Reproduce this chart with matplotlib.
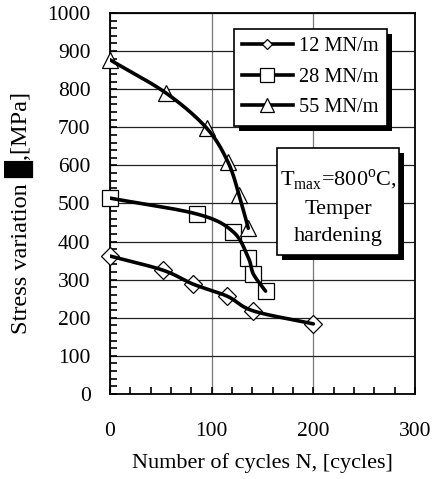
import numpy as np
import matplotlib
matplotlib.use('Agg')
import matplotlib.pyplot as plt
import matplotlib.patheffects as pe
from matplotlib.patches import Rectangle
from matplotlib.ticker import MultipleLocator

plt.rcParams['font.family'] = ['Liberation Serif', 'DejaVu Sans']
plt.rcParams['mathtext.fontset'] = 'custom'
plt.rcParams['mathtext.rm'] = 'Liberation Serif'

# measured points, cycles N vs stress variation [MPa]
n_12 = [0, 52, 82, 115, 141, 200]
s_12 = [362, 325, 288, 257, 218, 184]

n_28 = [0, 86, 121, 136, 141, 153]
s_28 = [514, 472, 426, 358, 315, 270]

n_55 = [0, 55, 95, 116, 127, 136]
s_55 = [877, 790, 698, 609, 522, 435]

labels = ['12 MN/m', '28 MN/m', '55 MN/m']
markers = ['D', 's', '^']
msizes = [9, 11.5, 12]
leg_sizes = [5.5, 9.5, 10.5]


def smooth(x, y, steps=30):
    # catmull-rom curve through the points (like a smoothed line)
    p = np.column_stack([x, y]).astype(float)
    p = np.vstack([2 * p[0] - p[1], p, 2 * p[-1] - p[-2]])
    out = []
    t = np.linspace(0, 1, steps)[:, None]
    for i in range(1, len(p) - 2):
        p0, p1, p2, p3 = p[i - 1], p[i], p[i + 1], p[i + 2]
        seg = 0.5 * (2 * p1 + (-p0 + p2) * t
                     + (2 * p0 - 5 * p1 + 4 * p2 - p3) * t ** 2
                     + (-p0 + 3 * p1 - 3 * p2 + p3) * t ** 3)
        out.append(seg)
    out = np.vstack(out)
    return out[:, 0], out[:, 1]


shadow = [pe.SimplePatchShadow(offset=(3.5, -3.5), shadow_rgbFace='k', alpha=1),
          pe.Normal()]

fig = plt.figure(figsize=(4.39, 4.79), dpi=100)
ax = fig.add_axes([0.2506, 0.1775, 0.6947, 0.7954])

series = [(n_12, s_12), (n_28, s_28), (n_55, s_55)]
for (n, s), lab, m, ms, lms in zip(series, labels, markers, msizes, leg_sizes):
    ax.plot(n, s, linestyle='none', marker=m, ms=ms, mfc='white', mec='k',
            mew=0.9, zorder=3, clip_on=False)
    xx, yy = smooth(n, s)
    ax.plot(xx, yy, color='k', lw=2.6, zorder=4, solid_capstyle='round')
    # legend proxy
    ax.plot([], [], color='k', lw=2.6, marker=m, ms=lms, mfc='white',
            mec='k', mew=0.9, label=lab)

ax.set_xlim(0, 300)
ax.set_ylim(0, 1000)
ax.xaxis.set_major_locator(MultipleLocator(100))
ax.xaxis.set_minor_locator(MultipleLocator(20))
ax.yaxis.set_major_locator(MultipleLocator(100))
ax.yaxis.set_minor_locator(MultipleLocator(20))
ax.tick_params(which='both', direction='in', length=5, width=1.2)
ax.tick_params(axis='x', which='major', pad=20, labelsize=15.5)
ax.tick_params(axis='y', which='major', pad=14, labelsize=15.5)

ax.grid(True, axis='y', which='major', color='#222222', lw=0.9)
ax.grid(True, axis='x', which='major', color='#777777', lw=0.9)
ax.set_axisbelow(True)
for sp in ax.spines.values():
    sp.set_linewidth(1.3)

ax.set_xlabel('Number of cycles N, [cycles]', fontsize=16, labelpad=9)
ax.set_ylabel('Stress variation \u2588,[MPa]', fontsize=17.5)
ax.yaxis.set_label_coords(-0.25, 0.475)

leg = ax.legend(loc='upper right', bbox_to_anchor=(0.908, 0.958),
                borderaxespad=0, fontsize=14.7, handlelength=2.5,
                handletextpad=0.3, labelspacing=0.55, borderpad=0.4,
                fancybox=False, framealpha=1, edgecolor='k')
frame = leg.get_frame()
frame.set_linewidth(1.2)
frame.set_path_effects(shadow)

# note box
box = Rectangle((0.5475, 0.365), 0.40, 0.281, transform=ax.transAxes,
                fc='white', ec='k', lw=1.2, zorder=6)
box.set_path_effects(shadow)
ax.add_patch(box)
ax.text(0.7475, 0.492,
        'T$_{\\rm max}$=800$^{\\rm o}$C,\nTemper\nhardening',
        transform=ax.transAxes, ha='center', va='center', fontsize=16,
        linespacing=1.55, zorder=7)

fig.savefig('out.png', dpi=100)
